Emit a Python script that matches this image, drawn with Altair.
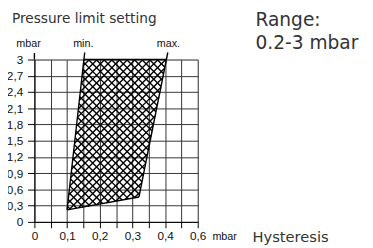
import altair as alt
import pandas as pd

# ---- data ----
y_ticks = [0, 0.3, 0.6, 0.9, 1.2, 1.5, 1.8, 2.1, 2.4, 2.7, 3.0]
y_labels = ["0", "0,3", "0,6", "0,9", "1,2", "1,5", "1,8", "2,1", "2,4", "2,7", "3"]
x_ticks = [0, 0.05, 0.1, 0.15, 0.2, 0.25, 0.3, 0.35, 0.4, 0.45, 0.5]
x_labels = ["0", "", "0,1", "", "0,2", "", "0,3", "", "0,4", "", "0,6"]

# boundary lines of the setting range (bottom point, top point)
min_x = [0.100, 0.1515]
min_y = [0.222, 3.0]
max_x = [0.320, 0.404]
max_y = [0.460, 3.0]
line_top = 3.13  # lines continue slightly above the frame

W, H = 167, 166
XMAX, YMAX = 0.5, 3.0
SX, SY = W / XMAX, H / YMAX
HATCH = 7.8  # px period of cross-hatching

# polygon (bottom-left, top-left, top-right, bottom-right)
verts = [(min_x[0], min_y[0]), (min_x[1], min_y[1]), (max_x[1], max_y[1]), (max_x[0], max_y[0])]
pverts = [(x * SX, y * SY) for x, y in verts]


def hatch(sign):
    f = lambda p: p[1] - sign * p[0]
    vals = [f(p) for p in pverts]
    segs = []
    u = min(vals) + HATCH / 2
    while u < max(vals):
        pts = []
        n = len(pverts)
        for i in range(n):
            p1, p2 = pverts[i], pverts[(i + 1) % n]
            f1, f2 = f(p1), f(p2)
            if (f1 - u) * (f2 - u) <= 0 and f1 != f2:
                t = (u - f1) / (f2 - f1)
                pts.append((p1[0] + t * (p2[0] - p1[0]), p1[1] + t * (p2[1] - p1[1])))
        if len(pts) >= 2:
            pts.sort()
            a, b = pts[0], pts[-1]
            segs.append({"x": a[0] / SX, "y": a[1] / SY, "x2": b[0] / SX, "y2": b[1] / SY})
        u += HATCH
    return segs


hatch_df = pd.DataFrame(hatch(1) + hatch(-1))


def ext(xs, ys):
    k = (xs[1] - xs[0]) / (ys[1] - ys[0])
    return xs[1] + k * (line_top - ys[1])


edges_df = pd.DataFrame([
    {"x": min_x[0], "y": min_y[0], "x2": ext(min_x, min_y), "y2": line_top},
    {"x": max_x[0], "y": max_y[0], "x2": ext(max_x, max_y), "y2": line_top},
    {"x": min_x[0], "y": min_y[0], "x2": max_x[0], "y2": max_y[0]},
    {"x": min_x[1], "y": min_y[1], "x2": max_x[1], "y2": max_y[1]},
    {"x": 0, "y": 3.0, "x2": 0, "y2": 3.12},
])

xscale = alt.Scale(domain=[0, XMAX], nice=False, zero=False)
yscale = alt.Scale(domain=[0, YMAX], nice=False, zero=False)

x_expr = "[" + ",".join("'%s'" % s for s in x_labels) + "][round(datum.value*20)]"
y_expr = "[" + ",".join("'%s'" % s for s in y_labels) + "][round(datum.value*10/3)]"

xaxis = alt.Axis(values=x_ticks, labelExpr=x_expr, title=None, grid=True,
                 tickSize=6, labelPadding=3, labelOverlap=False, labelFlush=False,
                 labelFont="Liberation Sans", labelFontSize=12, labelColor="#111",
                 domainColor="#000", tickColor="#000", gridColor="#333", gridWidth=1)
yaxis = alt.Axis(values=y_ticks, labelExpr=y_expr, title=None, grid=True,
                 tickSize=7, labelPadding=5, labelOverlap=False, labelFlush=False,
                 labelFont="Liberation Sans", labelFontSize=12, labelColor="#111",
                 domainColor="#000", tickColor="#000", gridColor="#333", gridWidth=1)

hatch_layer = alt.Chart(hatch_df).mark_rule(color="#000", strokeWidth=1.4).encode(
    x=alt.X("x:Q", scale=xscale, axis=xaxis),
    y=alt.Y("y:Q", scale=yscale, axis=yaxis),
    x2="x2:Q", y2="y2:Q",
)

edge_layer = alt.Chart(edges_df).mark_rule(color="#000", strokeWidth=1.4).encode(
    x=alt.X("x:Q", scale=xscale, axis=xaxis),
    y=alt.Y("y:Q", scale=yscale, axis=yaxis),
    x2="x2:Q", y2="y2:Q",
)


def txt(text, x, y, size, font, align="left", color="#333"):
    return alt.Chart(pd.DataFrame({"t": [text]})).mark_text(
        align=align, baseline="alphabetic", fontSize=size, font=font, color=color
    ).encode(text="t:N", x=alt.value(x), y=alt.value(y))


texts = [
    txt("Pressure limit setting", -23, -37, 14, "DejaVu Sans"),
    txt("mbar", -6, -13, 11, "Liberation Sans", "center", "#111"),
    txt("min.", 50, -13, 11, "Liberation Sans", "center", "#111"),
    txt("max.", 137, -13, 11, "Liberation Sans", "center", "#111"),
    txt("Range:", 226, -34, 19, "DejaVu Sans"),
    txt("0.2-3 mbar", 226, -11, 19, "DejaVu Sans"),
    txt("mbar", 182, 184, 11, "Liberation Sans", "left", "#111"),
    txt("Hysteresis", 223, 187, 15, "DejaVu Sans"),
]

chart = alt.layer(hatch_layer, edge_layer, *texts).properties(
    width=W, height=H,
    autosize=alt.AutoSizeParams(type="none"),
    padding={"left": 27, "top": 50, "right": 171, "bottom": 24},
).configure_view(stroke=None).configure(background="white")

chart.save("out.html", embed_options={"renderer": "svg", "actions": False})
